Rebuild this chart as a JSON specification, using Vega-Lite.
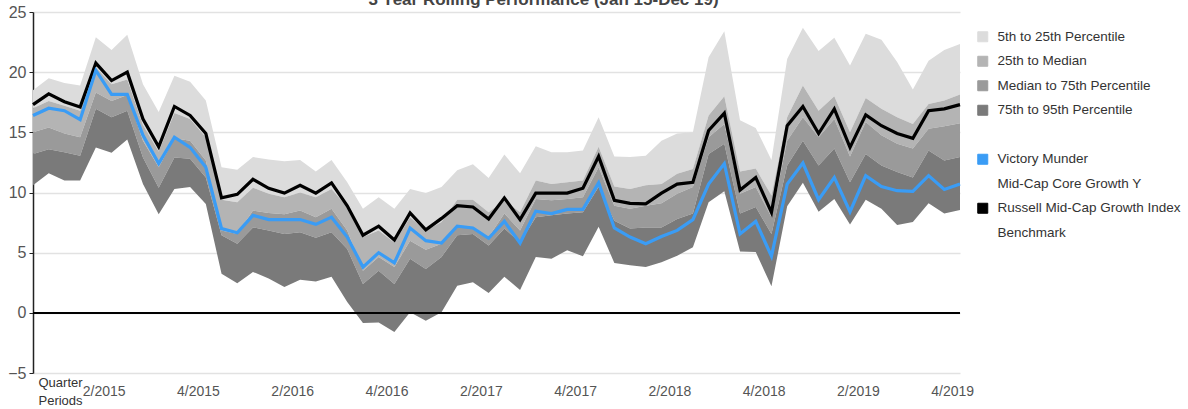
{
  "$schema": "https://vega.github.io/schema/vega-lite/v6.json",
  "autosize": "none",
  "width": 927,
  "height": 361,
  "padding": {"left": 33, "top": 12, "right": 228, "bottom": 36},
  "background": "#ffffff",
  "config": {
    "font": "Liberation Sans",
    "view": {"stroke": null}
  },
  "title": {
    "text": "3 Year Rolling Performance (Jan 15-Dec 19)",
    "frame": "group",
    "anchor": "middle",
    "baseline": "alphabetic",
    "offset": 0,
    "dy": 18,
    "dx": 47,
    "fontSize": 17,
    "fontWeight": "bold",
    "color": "#444444"
  },
  "data": {
    "values": [
      {"m": "2015-01", "i": 0, "p5": 18.5, "p25": 17.0, "p50": 15.0, "p75": 13.2, "p95": 10.6, "fund": 16.4, "bench": 17.3},
      {"m": "2015-02", "i": 1, "p5": 19.5, "p25": 17.6, "p50": 15.4, "p75": 13.6, "p95": 11.6, "fund": 17.0, "bench": 18.2},
      {"m": "2015-03", "i": 2, "p5": 19.1, "p25": 17.2, "p50": 14.9, "p75": 13.35, "p95": 11.0, "fund": 16.8, "bench": 17.55},
      {"m": "2015-04", "i": 3, "p5": 18.9, "p25": 16.8, "p50": 14.6, "p75": 13.05, "p95": 11.0, "fund": 16.05, "bench": 17.1},
      {"m": "2015-05", "i": 4, "p5": 22.9, "p25": 20.4, "p50": 18.3, "p75": 16.95, "p95": 13.75, "fund": 20.15, "bench": 20.75},
      {"m": "2015-06", "i": 5, "p5": 21.85, "p25": 19.0, "p50": 17.6, "p75": 16.25, "p95": 13.3, "fund": 18.15, "bench": 19.3},
      {"m": "2015-07", "i": 6, "p5": 23.1, "p25": 19.4, "p50": 18.1, "p75": 16.8, "p95": 14.4, "fund": 18.15, "bench": 20.0},
      {"m": "2015-08", "i": 7, "p5": 19.0, "p25": 15.6, "p50": 14.3, "p75": 12.9, "p95": 10.7, "fund": 14.75, "bench": 16.1},
      {"m": "2015-09", "i": 8, "p5": 16.7, "p25": 13.4, "p50": 12.1, "p75": 10.4, "p95": 8.2, "fund": 12.4, "bench": 13.8},
      {"m": "2015-10", "i": 9, "p5": 19.7, "p25": 16.6, "p50": 14.5, "p75": 12.9, "p95": 10.3, "fund": 14.6, "bench": 17.15},
      {"m": "2015-11", "i": 10, "p5": 19.2, "p25": 16.1, "p50": 14.3, "p75": 12.8, "p95": 10.45, "fund": 13.75, "bench": 16.4},
      {"m": "2015-12", "i": 11, "p5": 17.65, "p25": 14.6, "p50": 12.65, "p75": 11.25, "p95": 9.05, "fund": 12.1, "bench": 14.9},
      {"m": "2016-01", "i": 12, "p5": 12.1, "p25": 9.4, "p50": 6.85, "p75": 6.45, "p95": 3.25, "fund": 7.0, "bench": 9.55},
      {"m": "2016-02", "i": 13, "p5": 11.9, "p25": 9.2, "p50": 6.55, "p75": 5.75, "p95": 2.45, "fund": 6.65, "bench": 9.85},
      {"m": "2016-03", "i": 14, "p5": 12.95, "p25": 10.4, "p50": 8.5, "p75": 7.1, "p95": 3.4, "fund": 8.1, "bench": 11.1},
      {"m": "2016-04", "i": 15, "p5": 12.75, "p25": 9.9, "p50": 8.3, "p75": 6.85, "p95": 2.85, "fund": 7.75, "bench": 10.35},
      {"m": "2016-05", "i": 16, "p5": 12.6, "p25": 9.6, "p50": 8.2, "p75": 6.55, "p95": 2.15, "fund": 7.75, "bench": 9.95},
      {"m": "2016-06", "i": 17, "p5": 12.7, "p25": 10.0, "p50": 8.5, "p75": 6.7, "p95": 2.75, "fund": 7.75, "bench": 10.6},
      {"m": "2016-07", "i": 18, "p5": 11.75, "p25": 9.6, "p50": 7.95, "p75": 6.25, "p95": 2.6, "fund": 7.35, "bench": 9.95},
      {"m": "2016-08", "i": 19, "p5": 12.7, "p25": 10.3, "p50": 8.65, "p75": 6.7, "p95": 3.0, "fund": 7.95, "bench": 10.8},
      {"m": "2016-09", "i": 20, "p5": 10.85, "p25": 8.8, "p50": 6.85, "p75": 5.3, "p95": 0.9, "fund": 6.3, "bench": 8.9},
      {"m": "2016-10", "i": 21, "p5": 8.65, "p25": 6.3, "p50": 3.5, "p75": 2.4, "p95": -0.85, "fund": 3.8, "bench": 6.45},
      {"m": "2016-11", "i": 22, "p5": 9.6, "p25": 6.85, "p50": 4.65, "p75": 3.5, "p95": -0.8, "fund": 5.0, "bench": 7.2},
      {"m": "2016-12", "i": 23, "p5": 8.65, "p25": 5.85, "p50": 3.8, "p75": 2.4, "p95": -1.6, "fund": 4.15, "bench": 6.05},
      {"m": "2017-01", "i": 24, "p5": 10.3, "p25": 7.95, "p50": 6.0, "p75": 4.5, "p95": 0.05, "fund": 7.05, "bench": 8.3},
      {"m": "2017-02", "i": 25, "p5": 9.95, "p25": 6.85, "p50": 5.25, "p75": 3.65, "p95": -0.65, "fund": 6.0, "bench": 6.9},
      {"m": "2017-03", "i": 26, "p5": 10.45, "p25": 7.55, "p50": 5.75, "p75": 4.65, "p95": 0.05, "fund": 5.8, "bench": 7.85},
      {"m": "2017-04", "i": 27, "p5": 11.85, "p25": 9.4, "p50": 7.1, "p75": 6.45, "p95": 2.25, "fund": 7.2, "bench": 8.9},
      {"m": "2017-05", "i": 28, "p5": 12.35, "p25": 9.4, "p50": 7.1, "p75": 6.55, "p95": 2.55, "fund": 7.05, "bench": 8.8},
      {"m": "2017-06", "i": 29, "p5": 11.2, "p25": 8.35, "p50": 6.3, "p75": 5.6, "p95": 1.65, "fund": 6.2, "bench": 7.8},
      {"m": "2017-07", "i": 30, "p5": 13.15, "p25": 9.35, "p50": 8.25, "p75": 7.0, "p95": 3.0, "fund": 7.6, "bench": 9.55},
      {"m": "2017-08", "i": 31, "p5": 11.6, "p25": 8.35, "p50": 6.85, "p75": 5.85, "p95": 1.9, "fund": 5.8, "bench": 7.75},
      {"m": "2017-09", "i": 32, "p5": 13.85, "p25": 11.0, "p50": 9.45, "p75": 7.95, "p95": 4.65, "fund": 8.45, "bench": 9.95},
      {"m": "2017-10", "i": 33, "p5": 13.35, "p25": 10.7, "p50": 9.35, "p75": 8.1, "p95": 4.5, "fund": 8.25, "bench": 9.95},
      {"m": "2017-11", "i": 34, "p5": 13.35, "p25": 10.85, "p50": 9.45, "p75": 8.25, "p95": 5.2, "fund": 8.6, "bench": 9.95},
      {"m": "2017-12", "i": 35, "p5": 13.5, "p25": 11.0, "p50": 9.6, "p75": 8.35, "p95": 4.7, "fund": 8.6, "bench": 10.35},
      {"m": "2018-01", "i": 36, "p5": 16.25, "p25": 13.8, "p50": 12.1, "p75": 10.45, "p95": 7.15, "fund": 10.8, "bench": 13.0},
      {"m": "2018-02", "i": 37, "p5": 13.0, "p25": 10.5, "p50": 8.9, "p75": 7.65, "p95": 4.15, "fund": 7.05, "bench": 9.35},
      {"m": "2018-03", "i": 38, "p5": 12.95, "p25": 10.3, "p50": 8.65, "p75": 7.0, "p95": 3.95, "fund": 6.3, "bench": 9.1},
      {"m": "2018-04", "i": 39, "p5": 13.05, "p25": 10.6, "p50": 8.9, "p75": 7.1, "p95": 3.8, "fund": 5.75, "bench": 9.05},
      {"m": "2018-05", "i": 40, "p5": 14.3, "p25": 10.7, "p50": 9.1, "p75": 7.1, "p95": 4.2, "fund": 6.35, "bench": 9.95},
      {"m": "2018-06", "i": 41, "p5": 14.9, "p25": 11.55, "p50": 9.9, "p75": 7.8, "p95": 4.75, "fund": 6.85, "bench": 10.7},
      {"m": "2018-07", "i": 42, "p5": 15.0, "p25": 11.95, "p50": 10.45, "p75": 8.25, "p95": 5.45, "fund": 7.75, "bench": 10.85},
      {"m": "2018-08", "i": 43, "p5": 21.25, "p25": 16.4, "p50": 14.6, "p75": 13.2, "p95": 9.2, "fund": 10.7, "bench": 15.15},
      {"m": "2018-09", "i": 44, "p5": 23.4, "p25": 18.0, "p50": 15.7, "p75": 14.05, "p95": 10.1, "fund": 12.4, "bench": 16.6},
      {"m": "2018-10", "i": 45, "p5": 16.0, "p25": 11.75, "p50": 9.9, "p75": 8.25, "p95": 5.1, "fund": 6.55, "bench": 10.2},
      {"m": "2018-11", "i": 46, "p5": 15.35, "p25": 12.0, "p50": 10.45, "p75": 8.8, "p95": 5.05, "fund": 7.6, "bench": 11.25},
      {"m": "2018-12", "i": 47, "p5": 12.7, "p25": 9.75, "p50": 7.95, "p75": 6.55, "p95": 2.2, "fund": 4.7, "bench": 8.35},
      {"m": "2019-01", "i": 48, "p5": 21.1, "p25": 16.25, "p50": 14.3, "p75": 12.25, "p95": 8.85, "fund": 10.7, "bench": 15.55},
      {"m": "2019-02", "i": 49, "p5": 23.7, "p25": 18.9, "p50": 16.25, "p75": 14.3, "p95": 10.8, "fund": 12.45, "bench": 17.15},
      {"m": "2019-03", "i": 50, "p5": 21.75, "p25": 16.8, "p50": 14.6, "p75": 12.25, "p95": 8.4, "fund": 9.4, "bench": 14.9},
      {"m": "2019-04", "i": 51, "p5": 22.85, "p25": 18.0, "p50": 16.1, "p75": 13.65, "p95": 9.45, "fund": 11.25, "bench": 16.95},
      {"m": "2019-05", "i": 52, "p5": 20.55, "p25": 15.0, "p50": 13.0, "p75": 10.85, "p95": 7.35, "fund": 8.4, "bench": 13.75},
      {"m": "2019-06", "i": 53, "p5": 23.2, "p25": 17.85, "p50": 15.85, "p75": 13.2, "p95": 9.4, "fund": 11.4, "bench": 16.45},
      {"m": "2019-07", "i": 54, "p5": 22.7, "p25": 16.95, "p50": 14.75, "p75": 12.25, "p95": 8.65, "fund": 10.5, "bench": 15.55},
      {"m": "2019-08", "i": 55, "p5": 20.85, "p25": 16.25, "p50": 14.05, "p75": 11.7, "p95": 7.3, "fund": 10.15, "bench": 14.9},
      {"m": "2019-09", "i": 56, "p5": 18.55, "p25": 15.7, "p50": 13.65, "p75": 11.25, "p95": 7.55, "fund": 10.1, "bench": 14.5},
      {"m": "2019-10", "i": 57, "p5": 20.95, "p25": 17.35, "p50": 15.3, "p75": 13.5, "p95": 9.1, "fund": 11.4, "bench": 16.8},
      {"m": "2019-11", "i": 58, "p5": 21.85, "p25": 17.65, "p50": 15.5, "p75": 12.65, "p95": 8.25, "fund": 10.25, "bench": 16.95},
      {"m": "2019-12", "i": 59, "p5": 22.35, "p25": 18.15, "p50": 15.75, "p75": 12.95, "p95": 8.55, "fund": 10.7, "bench": 17.3}
    ]
  },
  "encoding": {
    "x": {
      "field": "i",
      "type": "quantitative",
      "scale": {"domain": [0, 59], "nice": false, "zero": false},
      "axis": {
        "values": [4.5, 10.5, 16.5, 22.5, 28.5, 34.5, 40.5, 46.5, 52.5, 58.5],
        "labelExpr": "(((datum.value - 4.5) / 6) % 2 == 0 ? '2/' : '4/') + (2015 + floor((datum.value - 4.5) / 12))",
        "grid": false,
        "domain": false,
        "ticks": false,
        "labelPadding": 11,
        "labelFontSize": 14,
        "labelColor": "#555555",
        "labelFlush": false,
        "title": ["Quarter", "Periods"],
        "titleFontSize": 13,
        "titleFontWeight": "normal",
        "titleColor": "#333333",
        "titleAlign": "left",
        "titleBaseline": "top",
        "titleAnchor": "start",
        "titleLineHeight": 18,
        "titleX": 5,
        "titleY": 3
      }
    }
  },
  "layer": [
    {
      "mark": {"type": "area", "opacity": 1},
      "encoding": {
        "y": {
          "field": "p5",
          "type": "quantitative",
          "scale": {"domain": [-5, 25], "nice": false},
          "axis": {
            "values": [-5, 0, 5, 10, 15, 20, 25],
            "title": null,
            "grid": true,
            "gridColor": "#e2e2e2",
            "gridWidth": 1.5,
            "domainColor": "#222222",
            "domainWidth": 1.5,
            "tickColor": "#222222",
            "tickSize": 4,
            "labelFontSize": 16,
            "labelColor": "#555555",
            "labelPadding": 3
          }
        },
        "y2": {"field": "p25"},
        "color": {
          "datum": "5th to 25th Percentile",
          "type": "nominal",
          "scale": {
            "domain": ["5th to 25th Percentile", "25th to Median", "Median to 75th Percentile", "75th to 95th Percentile", " ", "Victory Munder", "Mid-Cap Core Growth Y", "Russell Mid-Cap Growth Index", "Benchmark"],
            "range": ["#dcdcdc", "#b4b4b4", "#9a9a9a", "#7a7a7a", "#ffffff", "#3a9cf5", "#ffffff", "#000000", "#ffffff"]
          },
          "legend": {
            "title": null,
            "orient": "none",
            "legendX": 943,
            "legendY": 18,
            "symbolType": "square",
            "symbolSize": 100,
            "symbolStrokeWidth": 1,
            "labelFontSize": 13.5,
            "labelColor": "#333333",
            "labelOffset": 8,
            "rowPadding": 9.5,
            "labelLimit": 300,
            "encode": {
              "symbols": {
                "update": {
                  "fill": {"scale": "color", "field": "value"},
                  "stroke": {"signal": "datum.index == 5 || datum.index == 7 ? scale('color', datum.value) : '#666666'"},
                  "opacity": {"signal": "datum.index == 4 || datum.index == 6 || datum.index == 8 ? 0 : 1"}
                }
              },
              "labels": {
                "update": {
                  "fill": {"signal": "datum.index == 8 ? '#777777' : '#333333'"},
                  "dx": {"signal": "datum.index == 8 ? 4 : 0"}
                }
              }
            }
          }
        }
      }
    },
    {
      "mark": {"type": "area", "opacity": 1},
      "encoding": {
        "y": {"field": "p25", "type": "quantitative"},
        "y2": {"field": "p50"},
        "color": {"datum": "25th to Median", "type": "nominal"}
      }
    },
    {
      "mark": {"type": "area", "opacity": 1},
      "encoding": {
        "y": {"field": "p50", "type": "quantitative"},
        "y2": {"field": "p75"},
        "color": {"datum": "Median to 75th Percentile", "type": "nominal"}
      }
    },
    {
      "mark": {"type": "area", "opacity": 1},
      "encoding": {
        "y": {"field": "p75", "type": "quantitative"},
        "y2": {"field": "p95"},
        "color": {"datum": "75th to 95th Percentile", "type": "nominal"}
      }
    },
    {
      "mark": {"type": "rule", "color": "#000000", "strokeWidth": 1.3},
      "encoding": {
        "x": {"value": 0},
        "x2": {"value": 927},
        "y": {"datum": 0, "type": "quantitative"}
      }
    },
    {
      "mark": {"type": "line", "strokeWidth": 3.2, "strokeJoin": "miter"},
      "encoding": {
        "y": {"field": "bench", "type": "quantitative"},
        "color": {"datum": "Russell Mid-Cap Growth Index", "type": "nominal"}
      }
    },
    {
      "mark": {"type": "line", "strokeWidth": 3.2, "strokeJoin": "miter"},
      "encoding": {
        "y": {"field": "fund", "type": "quantitative"},
        "color": {"datum": "Victory Munder", "type": "nominal"}
      }
    }
  ]
}
